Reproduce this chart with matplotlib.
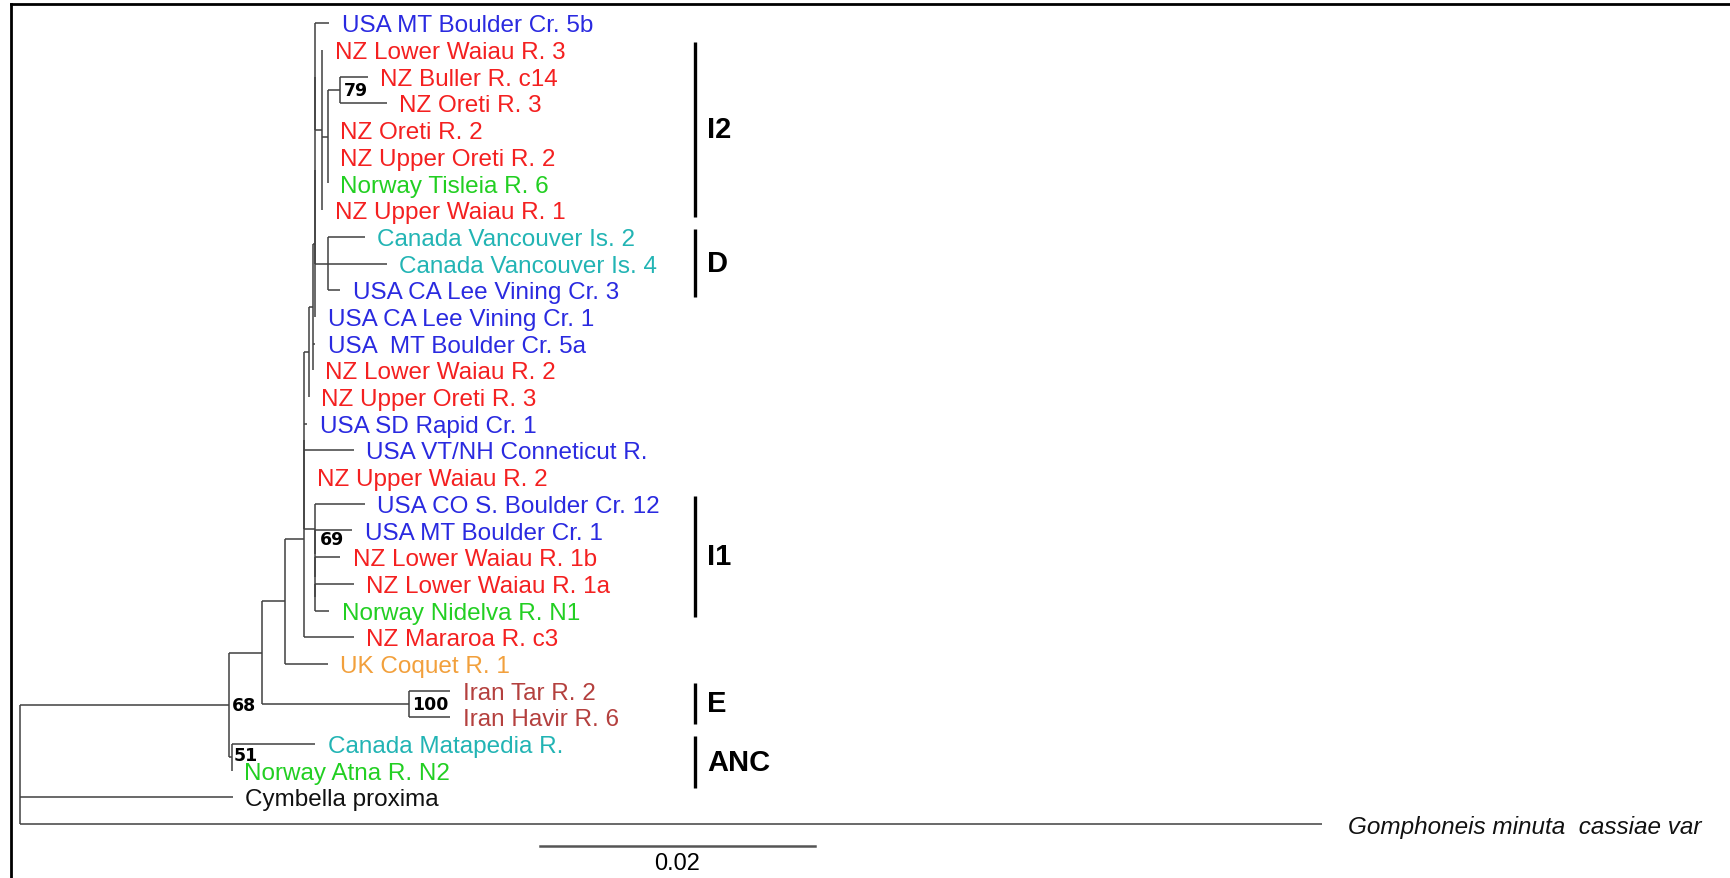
import numpy as np
import matplotlib
matplotlib.use("Agg")
from matplotlib import pyplot as plt
from matplotlib.collections import LineCollection

# tree in newick form, branch lengths in substitutions/site,
# numbers after ")" are bootstrap values
clade_79 = "('NZ Buller R. c14':0.0020,'NZ Oreti R. 3':0.0034)79"
clade_N = ("(" + clade_79 + ":0.0009,'NZ Oreti R. 2':0,'NZ Upper Oreti R. 2':0,"
           "'Norway Tisleia R. 6':0)")
clade_I2 = "('NZ Lower Waiau R. 3':0," + clade_N + ":0.0004,'NZ Upper Waiau R. 1':0)"
clade_D = ("('Canada Vancouver Is. 2':0.0027,'Canada Vancouver Is. 4':0.0043,"
           "'USA CA Lee Vining Cr. 3':0.0009)")
clade_J = ("(((('USA MT Boulder Cr. 5b':0.0010," + clade_I2 + ":0.0005):0,"
           + clade_D + ":0.0009):0,'USA CA Lee Vining Cr. 1':0):0.0002,"
           "'USA  MT Boulder Cr. 5a':0.0002,'NZ Lower Waiau R. 2':0)")
clade_G = "(" + clade_J + ":0.0003,'NZ Upper Oreti R. 3':0)"
clade_I1 = ("('USA CO S. Boulder Cr. 12':0.0036,('USA MT Boulder Cr. 1':0.0027,"
            "('NZ Lower Waiau R. 1b':0.0018,('NZ Lower Waiau R. 1a':0.0028,"
            "'Norway Nidelva R. N1':0.0010):0):0):0)69")
clade_main = ("((" + clade_G + ":0.0003,'USA SD Rapid Cr. 1':0.0002,"
              "'USA VT/NH Conneticut R.':0.0036,'NZ Upper Waiau R. 2':0,"
              + clade_I1 + ":0.0008):0,'NZ Mararoa R. c3':0.0036)")
clade_E = "('Iran Tar R. 2':0.0030,'Iran Havir R. 6':0.0030)100"
clade_ANC = "('Canada Matapedia R.':0.0061,'Norway Atna R. N2':0)51"
clade_68 = ("(((" + clade_main + ":0.0014,'UK Coquet R. 1':0.0031):0.0017,"
            + clade_E + ":0.0107):0.0024," + clade_ANC + ":0.0002)68")
tree_newick = ("(" + clade_68 + ":0.0152,'Cymbella proxima':0.0155,"
               "'Gomphoneis minuta  cassiae var':0.0947);")

country_colors = {"USA": "#2a2ae0", "NZ": "#f42020", "Norway": "#22cf22",
                  "Canada": "#22b4b4", "UK": "#f2a03c", "Iran": "#b4403e"}

clade_names = ["I2", "D", "I1", "E", "ANC"]
clade_first = ["NZ Lower Waiau R. 3", "Canada Vancouver Is. 2", "USA CO S. Boulder Cr. 12",
               "Iran Tar R. 2", "Canada Matapedia R."]
clade_last = ["NZ Upper Waiau R. 1", "USA CA Lee Vining Cr. 3", "Norway Nidelva R. N1",
              "Iran Havir R. 6", "Norway Atna R. N2"]
scale_length = 0.02


def parse_newick(s):
    pos = 0

    def node():
        nonlocal pos
        children = []
        if s[pos] == "(":
            pos += 1
            while True:
                children.append(node())
                if s[pos] == ",":
                    pos += 1
                    continue
                pos += 1
                break
        if s[pos] == "'":
            end = s.index("'", pos + 1)
            name = s[pos + 1:end]
            pos = end + 1
        else:
            start = pos
            while s[pos] not in ":,);":
                pos += 1
            name = s[start:pos] or None
        length = 0.0
        if s[pos] == ":":
            pos += 1
            start = pos
            while s[pos] not in ",);":
                pos += 1
            length = float(s[start:pos])
        return {"name": name, "length": length, "children": children}

    return node()


root = parse_newick(tree_newick)
leaves = []
internals = []


def layout(n, x0):
    n["x"] = x0 + n["length"]
    if not n["children"]:
        n["y"] = len(leaves)
        leaves.append(n)
    else:
        for c in n["children"]:
            layout(c, n["x"])
        n["y"] = (n["children"][0]["y"] + n["children"][-1]["y"]) / 2
        internals.append(n)


layout(root, 0.0)
leaf_y = {n["name"]: n["y"] for n in leaves}

segs = []
for n in internals:
    segs.append([(n["x"], n["children"][0]["y"]), (n["x"], n["children"][-1]["y"])])
    for c in n["children"]:
        segs.append([(n["x"], c["y"]), (c["x"], c["y"])])

fig = plt.figure(figsize=(17.31, 8.79), dpi=100)
ax = fig.add_axes([11 / 1731, 0, 1 - 11 / 1731, 1 - 5 / 879])
ax.add_collection(LineCollection(segs, colors="#404040", linewidths=1.1))
ax.set_xlim(-0.000645, 0.12449)
ax.set_ylim(32.02, -0.7227)

for n in leaves:
    name = n["name"]
    country = name.split()[0]
    color = country_colors.get(country, "#111111")
    style = "normal"
    dx = 9
    if name.startswith("Gomphoneis"):
        style = "italic"
        dx = 19
    ax.annotate(name, (n["x"], n["y"]), xytext=(dx, -1.5), textcoords="offset points",
                va="center", ha="left", fontsize=17.5, color=color, fontstyle=style,
                family="Liberation Sans")

# bootstrap values, small nudges so they sit like the original
boot_nudge = {"69": (3, -7), "51": (1.5, 2)}
for n in internals:
    if n["name"]:
        off = boot_nudge.get(n["name"], (2.5, 0))
        ax.annotate(n["name"], (n["x"], n["y"]), xytext=off, textcoords="offset points",
                    va="center", ha="left", fontsize=12.5, fontweight="bold",
                    family="DejaVu Sans", color="black")

# clade bars on the right
bar_x = 0.0491
for name, first, last in zip(clade_names, clade_first, clade_last):
    y0 = leaf_y[first] - 0.3
    y1 = leaf_y[last] + 0.25
    if name == "ANC":
        y1 = leaf_y[last] + 0.65
    ax.plot([bar_x, bar_x], [y0, y1], color="black", lw=2.4, solid_capstyle="butt")
    ax.text(bar_x + 0.0009, (y0 + y1) / 2, name, va="center", ha="left", fontsize=21,
            fontweight="bold", family="Liberation Sans")

# scale bar
sb_x = 0.03783
sb_y = 30.82
ax.plot([sb_x, sb_x + scale_length], [sb_y, sb_y], color="#555555", lw=1.8)
ax.annotate("%.2f" % scale_length, (sb_x + scale_length / 2, sb_y), xytext=(0, -4),
            textcoords="offset points", ha="center", va="top", fontsize=17,
            family="Liberation Sans")

ax.set_xticks([])
ax.set_yticks([])
for side in ["right", "bottom"]:
    ax.spines[side].set_visible(False)
for side in ["left", "top"]:
    ax.spines[side].set_linewidth(2)

fig.savefig("out.png", dpi=100, facecolor="white")
